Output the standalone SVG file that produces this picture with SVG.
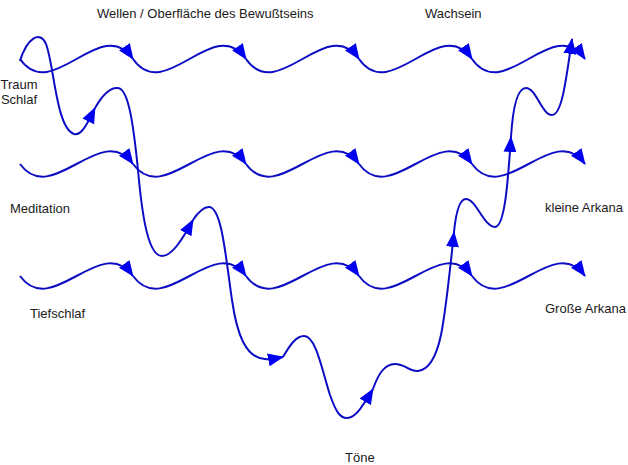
<svg xmlns="http://www.w3.org/2000/svg" width="628" height="465" viewBox="0 0 628 465">
<style>
.lbl{font-family:"Liberation Sans",Arial,sans-serif;font-size:13px;fill:#1a1a1a}
.w{fill:none;stroke:#0c0cc4;stroke-width:2;marker-end:url(#ah)}
</style>
<defs>
<marker id="ah" markerUnits="userSpaceOnUse" markerWidth="16" markerHeight="13" viewBox="0 0 16 13" refX="15" refY="6.5" orient="auto">
<path d="M0,0 L16,6.5 L0,13 z" fill="#0000f0"/>
</marker>
</defs>
<rect width="628" height="465" fill="#fff"/>
<g id="labels">
<g id="wellen"><text class="lbl" x="97" y="18">Wellen / Oberfläche des Bewußtseins</text></g>
<g id="wachsein"><text class="lbl" x="425" y="18">Wachsein</text></g>
<g id="traum"><text class="lbl" x="19" y="89" text-anchor="middle">Traum</text><text class="lbl" x="19" y="104" text-anchor="middle">Schlaf</text></g>
<g id="meditation"><text class="lbl" x="10" y="213">Meditation</text></g>
<g id="kleine"><text class="lbl" x="545" y="212">kleine Arkana</text></g>
<g id="tiefschlaf"><text class="lbl" x="30" y="318">Tiefschlaf</text></g>
<g id="grosse"><text class="lbl" x="545" y="313">Große Arkana</text></g>
<g id="toene"><text class="lbl" x="345" y="462">Töne</text></g>
</g>
<g id="connectors">
<g id="row1">
<path class="w" d="M20,59 c32,46 81,-46 113,0"/>
<path class="w" d="M133,59 c32,46 81,-46 113,0"/>
<path class="w" d="M246,59 c32,46 81,-46 113,0"/>
<path class="w" d="M359,59 c32,46 81,-46 113,0"/>
<path class="w" d="M472,59 c32,46 81,-46 113,0"/>
</g>
<g id="row2">
<path class="w" d="M20,164 c32,44 81,-44 113,0"/>
<path class="w" d="M133,164 c32,44 81,-44 113,0"/>
<path class="w" d="M246,164 c32,44 81,-44 113,0"/>
<path class="w" d="M359,164 c32,44 81,-44 113,0"/>
<path class="w" d="M472,164 c32,44 81,-44 113,0"/>
</g>
<g id="row3">
<path class="w" d="M20,276 c32,44 81,-44 113,0"/>
<path class="w" d="M133,276 c32,44 81,-44 113,0"/>
<path class="w" d="M246,276 c32,44 81,-44 113,0"/>
<path class="w" d="M359,276 c32,44 81,-44 113,0"/>
<path class="w" d="M472,276 c32,44 81,-44 113,0"/>
</g>
<g id="journey">
<path class="w" d="M20,61 C27,38 40,30 46,44 C54,64 56,128 74,134 C82,136 88,122 95,108"/>
<path class="w" d="M95,108 C103,94 110,87 118,88 C128,89 133,120 138,170 C142,215 148,256 162,256 C172,256 182,240 193,220"/>
<path class="w" d="M193,220 C199,211 204,207 209,207 C222,207 226,260 232,300 C237,335 246,358 265,359 C272,360 278,358 283,357"/>
<path class="w" d="M283,357 C290,345 296,336 304,336 C316,336 322,370 330,395 C336,412 340,418 347,418 C356,418 364,404 373,389"/>
<path class="w" d="M373,389 C378,375 384,364 395,364 C405,364 410,372 418,371 C428,370 436,358 441,335 C446,310 449,280 454,232"/>
<path class="w" d="M454,232 C456,212 460,199 466,199 C476,199 484,227 495,227 C505,227 508,180 511,137"/>
<path class="w" d="M511,137 C513,105 518,88 526,88 C536,88 542,115 552,115 C562,115 566,80 572,39"/>
</g>
</g>
</svg>
